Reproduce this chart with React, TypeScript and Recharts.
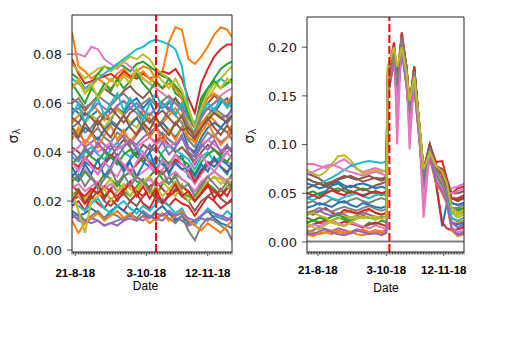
import React from "react";
import { LineChart, Line, XAxis, YAxis, ReferenceLine } from "recharts";

const TAB10 = ["#1f77b4", "#ff7f0e", "#2ca02c", "#d62728", "#9467bd", "#8c564b", "#e377c2", "#7f7f7f", "#bcbd22", "#17becf"];

// ---------- left panel ----------
const LEFT_DAYS = [0, 4, 8, 12, 16, 20, 24, 28, 32, 36, 40, 44, 48, 52, 56, 60, 64, 68, 72, 76, 80, 84, 88, 92, 96, 99];
const LEFT_MAJOR: Record<number, string> = { 2: "21-8-18", 46: "3-10-18", 84: "12-11-18" };
const LEFT_EVENT_DAY = 52;
const LEFT_Y_TICKS = [0, 0.02, 0.04, 0.06, 0.08];

const LEFT_SERIES: number[][] = [
  [0.058,0.056,0.052,0.055,0.057,0.054,0.053,0.058,0.056,0.06,0.062,0.058,0.061,0.055,0.06,0.057,0.062,0.058,0.05,0.048,0.055,0.058,0.056,0.06,0.062,0.058],
  [0.089,0.075,0.073,0.07,0.072,0.071,0.069,0.072,0.074,0.071,0.073,0.075,0.074,0.07,0.073,0.085,0.091,0.09,0.078,0.076,0.079,0.083,0.088,0.091,0.09,0.087],
  [0.072,0.07,0.066,0.068,0.072,0.075,0.074,0.076,0.075,0.073,0.076,0.077,0.075,0.073,0.071,0.07,0.064,0.062,0.052,0.047,0.06,0.066,0.07,0.074,0.076,0.077],
  [0.078,0.072,0.068,0.069,0.07,0.071,0.072,0.07,0.073,0.071,0.07,0.072,0.07,0.071,0.073,0.072,0.074,0.07,0.062,0.056,0.068,0.074,0.079,0.082,0.084,0.084],
  [0.048,0.045,0.042,0.044,0.046,0.043,0.041,0.044,0.047,0.045,0.043,0.046,0.048,0.05,0.047,0.045,0.043,0.046,0.04,0.038,0.042,0.045,0.047,0.044,0.046,0.048],
  [0.062,0.06,0.057,0.06,0.063,0.066,0.064,0.062,0.065,0.067,0.064,0.062,0.065,0.06,0.058,0.06,0.062,0.058,0.05,0.047,0.058,0.06,0.063,0.061,0.06,0.062],
  [0.08,0.08,0.079,0.083,0.082,0.078,0.076,0.074,0.077,0.075,0.072,0.07,0.068,0.066,0.064,0.062,0.06,0.058,0.052,0.05,0.055,0.058,0.06,0.063,0.065,0.066],
  [0.05,0.052,0.048,0.05,0.054,0.056,0.053,0.051,0.055,0.058,0.056,0.052,0.054,0.05,0.053,0.057,0.055,0.052,0.045,0.042,0.05,0.055,0.058,0.056,0.054,0.058],
  [0.076,0.073,0.07,0.072,0.074,0.075,0.073,0.075,0.077,0.079,0.078,0.08,0.078,0.074,0.072,0.07,0.066,0.062,0.052,0.046,0.055,0.062,0.066,0.07,0.073,0.075],
  [0.07,0.068,0.066,0.068,0.07,0.072,0.074,0.076,0.078,0.08,0.082,0.083,0.085,0.086,0.085,0.084,0.082,0.075,0.058,0.05,0.062,0.066,0.068,0.07,0.068,0.069],
  [0.03,0.033,0.036,0.034,0.031,0.035,0.038,0.036,0.033,0.037,0.04,0.036,0.034,0.038,0.035,0.032,0.036,0.039,0.03,0.028,0.033,0.036,0.034,0.037,0.035,0.033],
  [0.052,0.055,0.058,0.06,0.057,0.053,0.056,0.058,0.055,0.052,0.054,0.057,0.053,0.05,0.052,0.055,0.058,0.054,0.05,0.047,0.052,0.055,0.053,0.05,0.048,0.051],
  [0.022,0.025,0.02,0.024,0.027,0.022,0.025,0.028,0.024,0.022,0.026,0.029,0.025,0.022,0.027,0.03,0.026,0.023,0.022,0.02,0.024,0.027,0.025,0.022,0.026,0.028],
  [0.018,0.02,0.016,0.022,0.019,0.017,0.021,0.018,0.016,0.02,0.023,0.019,0.017,0.022,0.02,0.018,0.021,0.019,0.018,0.014,0.018,0.022,0.02,0.017,0.019,0.021],
  [0.015,0.012,0.011,0.013,0.012,0.01,0.011,0.012,0.013,0.014,0.013,0.012,0.014,0.013,0.012,0.015,0.013,0.012,0.01,0.011,0.013,0.012,0.014,0.013,0.012,0.014],
  [0.042,0.04,0.037,0.04,0.043,0.041,0.038,0.042,0.045,0.042,0.039,0.043,0.041,0.044,0.046,0.043,0.04,0.042,0.039,0.035,0.04,0.043,0.041,0.039,0.042,0.04],
  [0.028,0.03,0.033,0.03,0.027,0.029,0.032,0.03,0.035,0.033,0.03,0.032,0.034,0.031,0.033,0.036,0.035,0.033,0.031,0.027,0.031,0.034,0.036,0.038,0.036,0.035],
  [0.046,0.048,0.044,0.047,0.05,0.046,0.044,0.048,0.046,0.043,0.047,0.05,0.046,0.044,0.048,0.045,0.043,0.047,0.04,0.036,0.044,0.048,0.046,0.05,0.048,0.045],
  [0.05,0.048,0.052,0.055,0.053,0.05,0.054,0.057,0.055,0.052,0.05,0.054,0.056,0.053,0.05,0.048,0.052,0.055,0.046,0.044,0.05,0.054,0.057,0.055,0.052,0.054],
  [0.038,0.036,0.04,0.042,0.039,0.037,0.041,0.044,0.04,0.038,0.042,0.04,0.037,0.035,0.04,0.043,0.041,0.039,0.037,0.033,0.038,0.04,0.036,0.038,0.04,0.042],
  [0.016,0.014,0.015,0.017,0.015,0.013,0.016,0.018,0.016,0.014,0.017,0.015,0.013,0.016,0.018,0.015,0.012,0.014,0.011,0.012,0.014,0.016,0.013,0.011,0.01,0.009],
  [0.066,0.069,0.064,0.067,0.07,0.068,0.066,0.069,0.072,0.07,0.071,0.073,0.07,0.068,0.066,0.068,0.066,0.062,0.055,0.05,0.058,0.062,0.064,0.062,0.06,0.063],
  [0.03,0.028,0.032,0.029,0.027,0.031,0.029,0.026,0.03,0.032,0.028,0.027,0.03,0.033,0.029,0.027,0.031,0.029,0.027,0.022,0.027,0.03,0.032,0.03,0.028,0.031],
  [0.036,0.034,0.038,0.035,0.033,0.036,0.039,0.037,0.034,0.032,0.035,0.038,0.036,0.033,0.031,0.034,0.037,0.035,0.033,0.028,0.032,0.035,0.037,0.034,0.032,0.034],
  [0.056,0.058,0.055,0.057,0.06,0.058,0.056,0.059,0.061,0.058,0.06,0.057,0.055,0.058,0.06,0.058,0.056,0.059,0.054,0.05,0.055,0.058,0.056,0.054,0.055,0.057],
  [0.02,0.022,0.019,0.021,0.024,0.02,0.018,0.021,0.023,0.02,0.018,0.022,0.024,0.021,0.019,0.022,0.025,0.022,0.02,0.016,0.02,0.022,0.024,0.021,0.019,0.02],
  [0.04,0.042,0.045,0.043,0.04,0.042,0.044,0.041,0.043,0.045,0.042,0.044,0.046,0.043,0.045,0.042,0.044,0.046,0.042,0.04,0.043,0.045,0.043,0.041,0.04,0.042],
  [0.013,0.015,0.012,0.014,0.016,0.013,0.015,0.014,0.012,0.015,0.013,0.016,0.014,0.012,0.015,0.013,0.011,0.014,0.008,0.004,0.01,0.013,0.012,0.01,0.008,0.004],
  [0.028,0.022,0.02,0.025,0.023,0.026,0.029,0.024,0.027,0.025,0.023,0.028,0.03,0.026,0.028,0.025,0.022,0.027,0.023,0.02,0.025,0.028,0.03,0.027,0.029,0.026],
  [0.02,0.018,0.016,0.019,0.021,0.017,0.015,0.018,0.02,0.017,0.015,0.018,0.016,0.019,0.021,0.018,0.015,0.017,0.012,0.01,0.014,0.017,0.015,0.013,0.016,0.014],
  [0.048,0.046,0.05,0.048,0.045,0.049,0.052,0.05,0.048,0.051,0.054,0.05,0.047,0.05,0.052,0.049,0.046,0.05,0.042,0.04,0.046,0.05,0.052,0.05,0.053,0.055],
  [0.012,0.007,0.011,0.013,0.015,0.012,0.014,0.016,0.013,0.015,0.012,0.014,0.011,0.013,0.015,0.012,0.014,0.016,0.012,0.01,0.008,0.011,0.009,0.007,0.01,0.012],
  [0.035,0.038,0.041,0.038,0.036,0.04,0.038,0.035,0.039,0.041,0.038,0.036,0.04,0.042,0.038,0.035,0.039,0.037,0.035,0.031,0.036,0.039,0.041,0.038,0.036,0.039],
  [0.026,0.024,0.022,0.025,0.023,0.026,0.024,0.022,0.025,0.027,0.024,0.022,0.026,0.028,0.025,0.022,0.024,0.026,0.024,0.02,0.023,0.026,0.024,0.022,0.025,0.027],
  [0.014,0.013,0.012,0.011,0.012,0.01,0.011,0.01,0.012,0.013,0.012,0.014,0.013,0.015,0.014,0.016,0.014,0.015,0.013,0.012,0.014,0.016,0.015,0.014,0.013,0.012],
  [0.054,0.052,0.056,0.054,0.051,0.055,0.058,0.055,0.052,0.056,0.058,0.055,0.052,0.055,0.057,0.054,0.051,0.055,0.048,0.045,0.05,0.053,0.056,0.054,0.052,0.055],
  [0.025,0.027,0.024,0.026,0.028,0.025,0.027,0.024,0.026,0.028,0.03,0.027,0.029,0.026,0.028,0.03,0.032,0.029,0.027,0.024,0.028,0.03,0.032,0.03,0.028,0.03],
  [0.06,0.062,0.058,0.06,0.063,0.061,0.059,0.062,0.064,0.061,0.058,0.06,0.062,0.059,0.061,0.063,0.06,0.057,0.05,0.048,0.054,0.058,0.06,0.062,0.059,0.061],
  [0.024,0.016,0.007,0.02,0.022,0.025,0.02,0.024,0.026,0.022,0.025,0.028,0.023,0.026,0.022,0.025,0.028,0.024,0.02,0.022,0.026,0.028,0.03,0.029,0.026,0.024],
  [0.055,0.06,0.052,0.058,0.062,0.055,0.06,0.064,0.057,0.062,0.058,0.053,0.06,0.064,0.058,0.061,0.055,0.06,0.055,0.052,0.056,0.06,0.057,0.062,0.058,0.06],
  [0.034,0.029,0.035,0.031,0.037,0.03,0.034,0.039,0.032,0.036,0.03,0.035,0.04,0.033,0.037,0.031,0.036,0.033,0.034,0.03,0.035,0.032,0.038,0.034,0.031,0.036],
  [0.045,0.05,0.043,0.048,0.042,0.047,0.051,0.045,0.049,0.044,0.048,0.052,0.046,0.05,0.044,0.049,0.045,0.05,0.046,0.044,0.048,0.052,0.047,0.043,0.046,0.05],
  [0.068,0.064,0.06,0.066,0.063,0.068,0.065,0.07,0.066,0.069,0.072,0.068,0.065,0.069,0.066,0.07,0.067,0.064,0.055,0.05,0.062,0.066,0.069,0.066,0.068,0.07],
  [0.02,0.024,0.019,0.023,0.027,0.021,0.025,0.02,0.024,0.028,0.022,0.026,0.021,0.025,0.019,0.023,0.027,0.022,0.024,0.02,0.023,0.027,0.021,0.025,0.022,0.026],
  [0.04,0.037,0.042,0.039,0.044,0.04,0.043,0.038,0.042,0.045,0.041,0.038,0.043,0.04,0.044,0.039,0.042,0.046,0.042,0.039,0.043,0.041,0.045,0.04,0.043,0.04],
  [0.05,0.046,0.052,0.048,0.053,0.049,0.046,0.051,0.055,0.05,0.047,0.052,0.049,0.054,0.05,0.047,0.052,0.049,0.05,0.046,0.05,0.054,0.05,0.047,0.051,0.048],
  [0.036,0.032,0.038,0.034,0.031,0.036,0.033,0.038,0.035,0.031,0.036,0.04,0.035,0.032,0.037,0.034,0.039,0.035,0.033,0.036,0.039,0.035,0.032,0.036,0.04,0.037],
  [0.028,0.031,0.026,0.03,0.025,0.029,0.033,0.027,0.031,0.026,0.03,0.028,0.024,0.029,0.032,0.027,0.03,0.025,0.027,0.022,0.026,0.03,0.027,0.024,0.028,0.025],
  [0.066,0.07,0.064,0.068,0.062,0.066,0.07,0.067,0.071,0.068,0.074,0.07,0.068,0.072,0.069,0.066,0.07,0.065,0.058,0.05,0.058,0.064,0.068,0.066,0.07,0.068],
];

// ---------- right panel ----------
const RIGHT_DAYS = [0, 4, 8, 12, 16, 20, 24, 28, 32, 36, 40, 44, 48, 51, 52, 56, 58, 61, 64, 66, 69, 72, 75, 79, 83, 87, 90, 93, 97, 101];
const RIGHT_MAJOR: Record<number, string> = { 7: "21-8-18", 51: "3-10-18", 88: "12-11-18" };
const RIGHT_EVENT_DAY = 53;
const RIGHT_Y_TICKS = [0, 0.05, 0.1, 0.15, 0.2];

// values before the event (days 0..51)
const RIGHT_PRE: number[][] = [
  [0.045,0.048,0.05,0.052,0.058,0.06,0.055,0.052,0.05,0.048,0.05,0.052,0.05,0.048],
  [0.02,0.022,0.025,0.023,0.026,0.028,0.03,0.032,0.03,0.028,0.033,0.03,0.028,0.03],
  [0.05,0.052,0.048,0.05,0.053,0.055,0.052,0.05,0.053,0.055,0.052,0.05,0.048,0.05],
  [0.03,0.028,0.032,0.035,0.03,0.028,0.033,0.031,0.029,0.032,0.034,0.03,0.028,0.03],
  [0.01,0.012,0.015,0.013,0.011,0.014,0.012,0.01,0.013,0.011,0.009,0.012,0.01,0.012],
  [0.07,0.068,0.065,0.06,0.062,0.065,0.068,0.066,0.064,0.066,0.068,0.065,0.063,0.065],
  [0.08,0.08,0.078,0.076,0.078,0.082,0.085,0.08,0.075,0.072,0.074,0.076,0.074,0.072],
  [0.04,0.042,0.038,0.04,0.044,0.042,0.04,0.043,0.045,0.042,0.04,0.043,0.045,0.043],
  [0.074,0.07,0.068,0.072,0.08,0.088,0.089,0.084,0.076,0.07,0.072,0.074,0.072,0.074],
  [0.065,0.062,0.06,0.063,0.066,0.07,0.074,0.078,0.08,0.082,0.083,0.082,0.081,0.083],
  [0.035,0.037,0.04,0.038,0.036,0.04,0.042,0.038,0.036,0.04,0.038,0.036,0.035,0.037],
  [0.008,0.006,0.009,0.01,0.008,0.012,0.01,0.009,0.011,0.013,0.01,0.012,0.011,0.01],
  [0.025,0.022,0.02,0.018,0.022,0.025,0.023,0.02,0.018,0.015,0.02,0.018,0.022,0.02],
  [0.015,0.018,0.02,0.022,0.02,0.018,0.021,0.019,0.017,0.015,0.018,0.02,0.018,0.016],
  [0.028,0.03,0.032,0.029,0.027,0.03,0.028,0.025,0.027,0.03,0.028,0.026,0.024,0.026],
  [0.055,0.058,0.06,0.057,0.055,0.052,0.055,0.058,0.056,0.053,0.055,0.058,0.06,0.062],
  [0.015,0.018,0.016,0.02,0.022,0.019,0.017,0.02,0.018,0.016,0.014,0.017,0.015,0.013],
  [0.0005,0.0005,0.0005,0.0005,0.0005,0.0005,0.0005,0.0005,0.0005,0.0005,0.0005,0.0005,0.0005,0.0005],
  [0.02,0.015,0.013,0.018,0.022,0.024,0.026,0.025,0.026,0.024,0.025,0.026,0.024,0.025],
  [0.045,0.043,0.046,0.048,0.045,0.043,0.046,0.048,0.05,0.047,0.045,0.048,0.05,0.047],
  [0.06,0.058,0.055,0.057,0.06,0.062,0.058,0.056,0.059,0.06,0.058,0.055,0.057,0.055],
  [0.012,0.01,0.008,0.01,0.012,0.01,0.009,0.011,0.008,0.007,0.009,0.011,0.008,0.01],
  [0.02,0.022,0.025,0.023,0.026,0.028,0.025,0.022,0.024,0.027,0.025,0.023,0.026,0.024],
  [0.05,0.048,0.045,0.05,0.053,0.05,0.048,0.052,0.05,0.047,0.05,0.052,0.05,0.052],
  [0.009,0.008,0.011,0.013,0.01,0.008,0.007,0.009,0.012,0.01,0.008,0.009,0.007,0.009],
  [0.065,0.062,0.06,0.058,0.06,0.064,0.066,0.068,0.065,0.062,0.064,0.066,0.065,0.067],
  [0.07,0.072,0.075,0.078,0.08,0.077,0.074,0.072,0.07,0.068,0.07,0.072,0.07,0.068],
  [0.03,0.032,0.035,0.033,0.031,0.034,0.036,0.034,0.032,0.035,0.037,0.034,0.032,0.034],
  [0.028,0.03,0.027,0.025,0.02,0.018,0.016,0.02,0.024,0.026,0.025,0.023,0.025,0.024],
];

// values from the event on (days 52..101)
const RIGHT_POST: number[][] = [
  [0.17,0.19,0.15,0.21,0.17,0.12,0.17,0.12,0.07,0.095,0.06,0.016,0.04,0.02,0.015,0.018],
  [0.16,0.2,0.16,0.21,0.17,0.135,0.17,0.12,0.065,0.09,0.07,0.05,0.04,0.025,0.02,0.022],
  [0.16,0.2,0.17,0.21,0.18,0.14,0.18,0.12,0.07,0.1,0.075,0.07,0.05,0.03,0.028,0.03],
  [0.16,0.19,0.15,0.2,0.17,0.13,0.17,0.125,0.07,0.1,0.082,0.083,0.065,0.05,0.055,0.057],
  [0.15,0.19,0.15,0.2,0.16,0.13,0.16,0.11,0.06,0.09,0.07,0.06,0.04,0.015,0.008,0.01],
  [0.17,0.2,0.165,0.215,0.175,0.14,0.175,0.125,0.075,0.1,0.078,0.072,0.06,0.045,0.042,0.045],
  [0.175,0.205,0.1,0.215,0.175,0.095,0.17,0.12,0.025,0.095,0.07,0.06,0.05,0.055,0.057,0.06],
  [0.17,0.2,0.16,0.21,0.175,0.14,0.175,0.125,0.07,0.1,0.075,0.065,0.05,0.04,0.038,0.04],
  [0.18,0.2,0.17,0.2,0.175,0.13,0.17,0.12,0.07,0.09,0.076,0.074,0.06,0.03,0.028,0.03],
  [0.17,0.2,0.165,0.21,0.17,0.135,0.17,0.12,0.065,0.095,0.07,0.06,0.05,0.035,0.03,0.032],
  [0.16,0.19,0.155,0.2,0.165,0.13,0.165,0.115,0.06,0.09,0.068,0.055,0.045,0.02,0.018,0.02],
  [0.15,0.185,0.15,0.2,0.165,0.13,0.165,0.115,0.06,0.09,0.07,0.05,0.045,0.03,0.035,0.03],
  [0.16,0.195,0.155,0.205,0.18,0.14,0.18,0.12,0.065,0.09,0.072,0.065,0.05,0.035,0.032,0.035],
  [0.16,0.19,0.15,0.2,0.165,0.13,0.165,0.115,0.065,0.09,0.06,0.02,0.014,0.012,0.013,0.015],
  [0.16,0.2,0.16,0.21,0.17,0.135,0.17,0.12,0.065,0.095,0.07,0.06,0.045,0.02,0.015,0.017],
  [0.17,0.2,0.165,0.21,0.178,0.14,0.178,0.125,0.07,0.1,0.077,0.07,0.055,0.045,0.045,0.048],
  [0.155,0.19,0.14,0.2,0.165,0.12,0.165,0.115,0.055,0.09,0.065,0.055,0.04,0.015,0.01,0.012],
  [0.0005,0.0005,0.0005,0.0005,0.0005,0.0005,0.0005,0.0005,0.0005,0.0005,0.0005,0.0005,0.0005,0.0005,0.0005,0.0005],
  [0.18,0.2,0.175,0.2,0.18,0.14,0.175,0.125,0.075,0.095,0.077,0.075,0.06,0.03,0.025,0.028],
  [0.165,0.195,0.16,0.205,0.17,0.13,0.17,0.12,0.065,0.095,0.07,0.062,0.05,0.025,0.022,0.025],
  [0.165,0.2,0.16,0.21,0.17,0.13,0.17,0.12,0.065,0.095,0.072,0.065,0.052,0.04,0.038,0.04],
  [0.15,0.19,0.15,0.2,0.16,0.125,0.16,0.11,0.055,0.085,0.06,0.05,0.04,0.012,0.006,0.008],
  [0.165,0.195,0.16,0.205,0.17,0.135,0.17,0.12,0.065,0.095,0.07,0.06,0.048,0.035,0.033,0.035],
  [0.17,0.205,0.165,0.215,0.18,0.14,0.18,0.125,0.072,0.1,0.078,0.07,0.058,0.045,0.043,0.046],
  [0.15,0.185,0.145,0.195,0.16,0.125,0.16,0.11,0.055,0.088,0.062,0.052,0.04,0.014,0.007,0.01],
  [0.175,0.2,0.17,0.21,0.18,0.14,0.175,0.125,0.075,0.1,0.078,0.075,0.06,0.05,0.05,0.052],
  [0.17,0.2,0.13,0.21,0.17,0.11,0.17,0.12,0.04,0.095,0.072,0.062,0.05,0.05,0.052,0.055],
  [0.165,0.2,0.16,0.21,0.175,0.135,0.175,0.12,0.07,0.095,0.073,0.065,0.05,0.035,0.035,0.038],
  [0.18,0.2,0.18,0.2,0.175,0.145,0.17,0.125,0.075,0.092,0.078,0.072,0.06,0.035,0.03,0.033],
];

const RIGHT_SERIES: number[][] = RIGHT_PRE.map((pre, i) => pre.concat(RIGHT_POST[i]));

function buildRows(days: number[], series: number[][]) {
  return days.map((d, i) => {
    const row: Record<string, number> = { day: d };
    series.forEach((s, j) => {
      row["s" + j] = s[i];
    });
    return row;
  });
}

const leftData = buildRows(LEFT_DAYS, LEFT_SERIES);
const rightData = buildRows(RIGHT_DAYS, RIGHT_SERIES);

const AXIS_COLOR = "#222";

function dayRange(n: number) {
  const out: number[] = [];
  for (let i = 0; i <= n; i++) out.push(i);
  return out;
}

function DateTick(props: any) {
  const { x, y, payload, majors, labelDy } = props;
  const label = majors[payload.value];
  return (
    <g>
      <line x1={x} x2={x} y1={y} y2={y + (label ? 4 : 2.5)} stroke={AXIS_COLOR} strokeWidth={0.8} />
      {label ? (
        <text
          x={x}
          y={y + labelDy}
          textAnchor="middle"
          fontFamily="'Liberation Sans', Arial, sans-serif"
          fontWeight="bold"
          fontSize={11.5}
          fill="#000"
        >
          {label}
        </text>
      ) : null}
    </g>
  );
}

interface PanelProps {
  data: Record<string, number>[];
  count: number;
  width: number;
  height: number;
  margin: { top: number; right: number; bottom: number; left: number };
  yAxisWidth: number;
  xMax: number;
  yDomain: [number, number];
  yTicks: number[];
  majors: Record<number, string>;
  labelDy: number;
  eventDay: number;
}

function Panel(p: PanelProps) {
  const lines = [];
  for (let j = 0; j < p.count; j++) {
    lines.push(
      <Line
        key={"s" + j}
        type="linear"
        dataKey={"s" + j}
        stroke={TAB10[j % 10]}
        strokeWidth={2}
        dot={false}
        activeDot={false}
        isAnimationActive={false}
      />
    );
  }
  return (
    <LineChart width={p.width} height={p.height} data={p.data} margin={p.margin}>
      <XAxis
        dataKey="day"
        type="number"
        domain={[0, p.xMax]}
        allowDataOverflow
        ticks={dayRange(p.xMax)}
        interval={0}
        height={58}
        tickSize={0}
        tickMargin={0}
        tickLine={false}
        axisLine={{ stroke: AXIS_COLOR, strokeWidth: 1 }}
        tick={(tp: any) => <DateTick {...tp} majors={p.majors} labelDy={p.labelDy} />}
      />
      <YAxis
        type="number"
        domain={p.yDomain}
        allowDataOverflow
        ticks={p.yTicks}
        interval={0}
        width={p.yAxisWidth}
        tickSize={5}
        tickMargin={5}
        tickFormatter={(v: number) => v.toFixed(2)}
        tick={{ fill: "#222", fontSize: 13, fontFamily: "'DejaVu Sans', sans-serif" }}
        tickLine={{ stroke: AXIS_COLOR, strokeWidth: 0.8 }}
        axisLine={{ stroke: AXIS_COLOR, strokeWidth: 1 }}
      />
      {lines}
      <ReferenceLine x={p.eventDay} stroke="#ff0000" strokeWidth={2} strokeDasharray="8 3" ifOverflow="visible" />
      <ReferenceLine y={p.yDomain[1]} stroke={AXIS_COLOR} strokeWidth={1} ifOverflow="visible" />
      <ReferenceLine x={p.xMax} stroke={AXIS_COLOR} strokeWidth={1} ifOverflow="visible" />
    </LineChart>
  );
}

function SigmaLabel({ x, y }: { x: number; y: number }) {
  return (
    <text
      transform={`translate(${x},${y}) rotate(-90)`}
      textAnchor="middle"
      fontFamily="'DejaVu Sans', sans-serif"
      fontSize={14}
      fill="#222"
    >
      σ
      <tspan fontSize={10} dy={2}>
        λ
      </tspan>
    </text>
  );
}

export default function App() {
  return (
    <div style={{ position: "relative", width: 510, height: 360, background: "#fff", overflow: "hidden" }}>
      <style>{"body{margin:0;}"}</style>
      <div style={{ position: "absolute", left: 0, top: 0 }}>
        <Panel
          data={leftData}
          count={LEFT_SERIES.length}
          width={250}
          height={310}
          margin={{ top: 15, right: 18, bottom: 0, left: 0 }}
          yAxisWidth={72}
          xMax={99}
          yDomain={[-0.0008, 0.096]}
          yTicks={LEFT_Y_TICKS}
          majors={LEFT_MAJOR}
          labelDy={25}
          eventDay={LEFT_EVENT_DAY}
        />
      </div>
      <div style={{ position: "absolute", left: 250, top: 0 }}>
        <Panel
          data={rightData}
          count={RIGHT_SERIES.length}
          width={240}
          height={310}
          margin={{ top: 17, right: 26, bottom: 0, left: 0 }}
          yAxisWidth={57}
          xMax={101}
          yDomain={[-0.0103, 0.231]}
          yTicks={RIGHT_Y_TICKS}
          majors={RIGHT_MAJOR}
          labelDy={22}
          eventDay={RIGHT_EVENT_DAY}
        />
      </div>
      <svg
        width={510}
        height={360}
        style={{ position: "absolute", left: 0, top: 0, pointerEvents: "none" }}
      >
        <SigmaLabel x={17.5} y={136} />
        <SigmaLabel x={253.5} y={136} />
        <text x={145.5} y={290} textAnchor="middle" fontFamily="'Liberation Sans', Arial, sans-serif" fontSize={12} fill="#000">
          Date
        </text>
        <text x={386} y={292} textAnchor="middle" fontFamily="'Liberation Sans', Arial, sans-serif" fontSize={12} fill="#000">
          Date
        </text>
      </svg>
    </div>
  );
}
